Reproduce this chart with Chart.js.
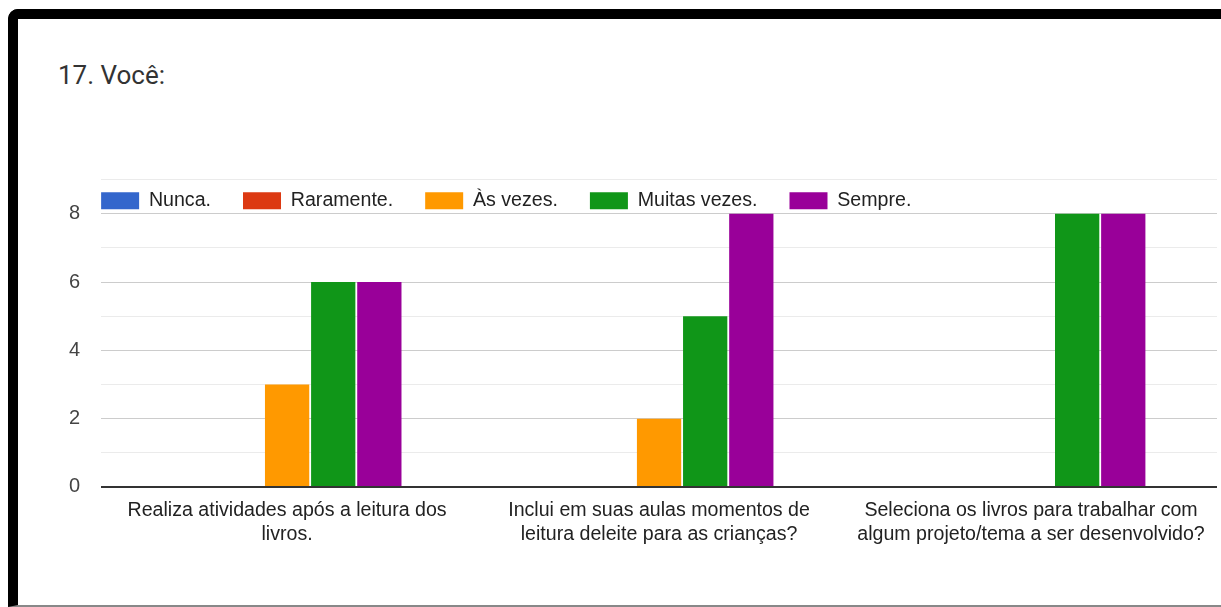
<!DOCTYPE html>
<html>
<head>
<meta charset="utf-8">
<script src="https://cdn.jsdelivr.net/npm/chart.js@4.4.0/dist/chart.umd.min.js"></script>
<style>
    html, body { margin: 0; padding: 0; background: #fff; }
    body { width: 1221px; height: 607px; overflow: hidden; position: relative; }
    #frame {
        position: absolute; left: 8px; top: 9px; width: 1300px; height: 586px;
        border-top: 10px solid #000; border-left: 10px solid #000;
        border-bottom: 2px solid #888; border-top-left-radius: 10px;
    }
    #title {
        position: absolute; left: 58px; top: 60px;
        font-family: Roboto, sans-serif; font-size: 26px; color: #333;
    }
    #wrap { position: absolute; left: 0; top: 0; width: 1221px; height: 607px; }
</style>
</head>
<body>
<div id="frame"></div>
<div id="title">17. Você:</div>
<div id="wrap"><canvas id="chartId"></canvas></div>
<script>
var categories = [
    ['Realiza atividades após a leitura dos', 'livros.'],
    ['Inclui em suas aulas momentos de', 'leitura deleite para as crianças?'],
    ['Seleciona os livros para trabalhar com', 'algum projeto/tema a ser desenvolvido?']
];
var seriesNames = ['Nunca.', 'Raramente.', 'Às vezes.', 'Muitas vezes.', 'Sempre.'];
var seriesColors = ['#3366cc', '#dc3912', '#ff9900', '#109618', '#990099'];
var nunca = [0, 0, 0];
var raramente = [0, 0, 0];
var asVezes = [3, 2, 0];
var muitasVezes = [6, 5, 8];
var sempre = [6, 8, 8];
var yTicks = [0, 2, 4, 6, 8];

function init() {
    var chartEl = document.getElementById('chartId').getContext('2d');
    var values = [nunca, raramente, asVezes, muitasVezes, sempre];
    var datasets = [];
    for (var i = 0; i < seriesNames.length; i++) {
        datasets.push({
            label: seriesNames[i],
            data: values[i],
            backgroundColor: seriesColors[i],
            borderWidth: 0,
            categoryPercentage: 0.62,
            barPercentage: 0.96
        });
    }

    // move the legend down into the band above the "8" gridline
    var moveLegend = {
        id: 'moveLegend',
        afterLayout: function(chart) {
            var lg = chart.legend;
            var pad = lg.options.labels.padding;
            var dx = chart.chartArea.left - pad - lg.left;
            lg.left += dx;
            lg.right += dx;
            var dy = 191 - pad - lg.top;
            lg.top += dy;
            lg.bottom += dy;
        }
    };

    new Chart(chartEl, {
        type: 'bar',
        data: { labels: categories, datasets: datasets },
        plugins: [moveLegend],
        options: {
            responsive: true,
            maintainAspectRatio: false,
            animation: false,
            layout: { padding: { left: 48, right: 4, top: 118, bottom: 56 } },
            plugins: {
                tooltip: { enabled: false },
                legend: {
                    position: 'top',
                    align: 'start',
                    labels: {
                        boxWidth: 38,
                        boxHeight: 17,
                        padding: 32,
                        color: '#222',
                        font: { family: 'Liberation Sans, Arial, sans-serif', size: 19.6 }
                    }
                }
            },
            scales: {
                x: {
                    grid: { display: false },
                    border: { display: false },
                    ticks: {
                        color: '#222',
                        padding: 4,
                        maxRotation: 0,
                        font: { family: 'Liberation Sans, Arial, sans-serif', size: 19.6, lineHeight: 1.225 }
                    }
                },
                y: {
                    min: 0,
                    max: 9,
                    border: { display: false },
                    grid: {
                        drawTicks: false,
                        color: function(ctx) {
                            var v = ctx.tick.value;
                            if (v === 0) return '#333';
                            return yTicks.indexOf(v) >= 0 ? '#cccccc' : '#ebebeb';
                        },
                        lineWidth: function(ctx) {
                            return ctx.tick.value === 0 ? 2 : 1;
                        }
                    },
                    ticks: {
                        stepSize: 1,
                        padding: 21,
                        color: '#444',
                        font: { family: 'Liberation Sans, Arial, sans-serif', size: 20 },
                        callback: function(v) {
                            return yTicks.indexOf(v) >= 0 ? String(v) : '';
                        }
                    }
                }
            }
        }
    });
}

init();
</script>
</body>
</html>
